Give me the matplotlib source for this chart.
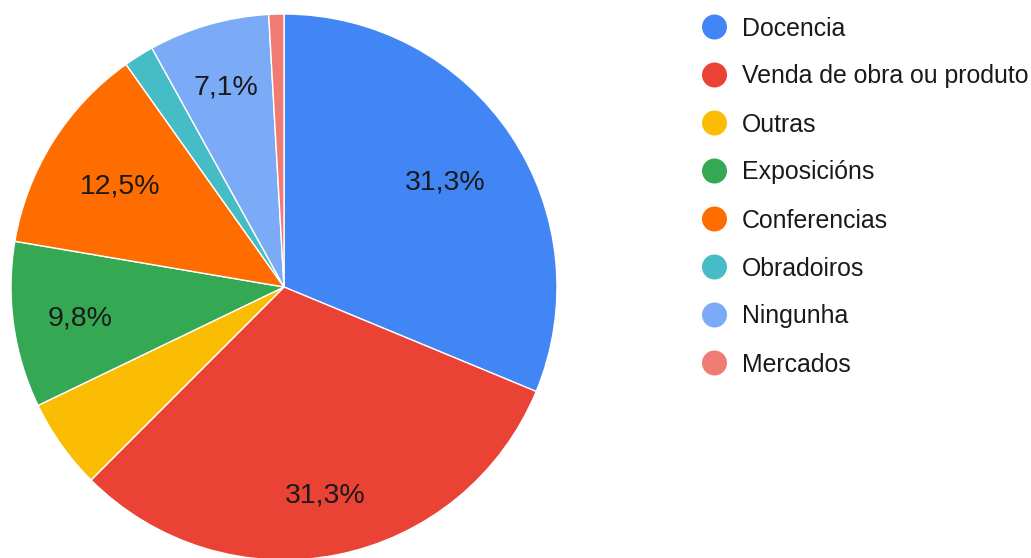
import matplotlib
matplotlib.use("Agg")
import matplotlib.pyplot as plt
import numpy as np
from decimal import Decimal, ROUND_HALF_UP

categories = ["Docencia", "Venda de obra ou produto", "Outras", "Exposicións",
              "Conferencias", "Obradoiros", "Ningunha", "Mercados"]
values = [35, 35, 6, 11, 14, 2, 8, 1]
colors = ["#4285F4", "#EA4335", "#FBBC04", "#34A853", "#FF6D01", "#46BDC6", "#7BAAF7", "#F07B72"]
label_radius = [0.71, 0.77, 0.75, 0.755, 0.71, 0.75, 0.77, 0.75]

plt.rcParams['font.family'] = ['Liberation Sans', 'DejaVu Sans']

W, H = 1031, 558
fig = plt.figure(figsize=(W / 100, H / 100), dpi=100)

cx, cy, r = 284, 287, 273
ax = fig.add_axes([(cx - r) / W, (H - cy - r) / H, 2 * r / W, 2 * r / H])

def fmt(p):
    if p < 5.5:
        return ""
    v = Decimal(str(round(p, 6))).quantize(Decimal("0.1"), rounding=ROUND_HALF_UP)
    return str(v).replace(".", ",") + "%"

wedges, texts, autotexts = ax.pie(
    values, colors=colors, startangle=90, counterclock=False,
    autopct=fmt, pctdistance=0.71,
    wedgeprops=dict(edgecolor="white", linewidth=1),
    textprops=dict(fontsize=20.5, color="#1a1a1a"))
for w, t, rr in zip(wedges, autotexts, label_radius):
    ang = np.deg2rad((w.theta1 + w.theta2) / 2)
    t.set_position((rr * np.cos(ang), rr * np.sin(ang) - 0.01))
ax.set_aspect("equal")
ax.set_xlim(-1, 1)
ax.set_ylim(-1, 1)

lax = fig.add_axes([0, 0, 1, 1])
lax.set_xlim(0, W)
lax.set_ylim(H, 0)
lax.axis("off")
for i, (lab, col) in enumerate(zip(categories, colors)):
    y = 27 + 48 * i
    lax.scatter([714.5], [y], s=324, color=col, edgecolors="none")
    lax.text(742, y + 1.5, lab, va="center", ha="left", fontsize=17.9, color="#1a1a1a")

fig.savefig("out.png", dpi=100)
